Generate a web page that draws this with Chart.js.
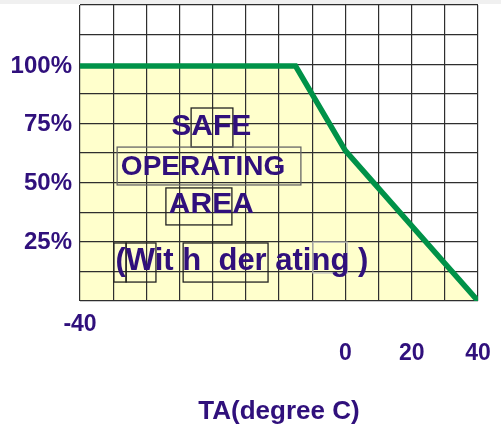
<!DOCTYPE html>
<html>
<head>
<meta charset="utf-8">
<title>Safe operating area</title>
<script src="https://cdn.jsdelivr.net/npm/chart.js@4.4.1/dist/chart.umd.min.js"></script>
<style>
  html, body { margin: 0; padding: 0; }
  body { width: 501px; height: 427px; overflow: hidden;
         background: linear-gradient(#f0f0f0 0 4px, #fff 4px); }
  .wrap { position: relative; width: 501px; height: 427px; }
</style>
</head>
<body>
<div class="wrap"><canvas id="soa"></canvas></div>
<script>
// derating curve: ambient temp (deg C) -> allowed load (%)
const taValues   = [-80, -15, 0, 40];
const loadValues = [100, 100, 64, 0];

// axis ticks (the drawing squeezes "-40" onto the left edge)
const xTickValues = [-80, 0, 20, 40];
const xTickLabels = ['-40', '0', '20', '40'];
const yTickValues = [25, 50, 75, 100];
const yTickLabels = ['25%', '50%', '75%', '100%'];

const areaText = ['SAFE', 'OPERATING', 'AREA', '(Wit h  der ating )'];

const PURPLE = '#30107c';
const GREEN  = '#009248';
const FONT   = "'Liberation Sans', Arial, sans-serif";

// text + the stray text-box outlines, placed in grid units (gx / gy scales)
const soaText = {
  id: 'soaText',
  afterDatasetsDraw(chart) {
    const {ctx} = chart;
    const gx = chart.scales.gx, gy = chart.scales.gy;
    const px = v => gx.getPixelForValue(v);
    const py = v => gy.getPixelForValue(v);

    const boxes = [
      [3.35, 5.20, 4.61, 6.52, '#222'],
      [1.12, 3.92, 6.66, 5.20, '#666'],
      [2.59, 2.57, 4.58, 3.82, '#222'],
      [1.02, 0.64, 1.39, 1.96, '#222'],
      [1.39, 0.64, 2.29, 1.96, '#222'],
      [3.11, 0.64, 5.67, 1.96, '#222'],
      [7.02, 0.95, 8.05, 1.99, '#bbb']
    ];
    ctx.save();
    ctx.lineWidth = 1.3;
    boxes.forEach(b => {
      ctx.strokeStyle = b[4];
      ctx.strokeRect(px(b[0]), py(b[3]), px(b[2]) - px(b[0]), py(b[1]) - py(b[3]));
    });

    const pos = [[3.96, 5.90, 30], [3.71, 4.53, 28], [3.96, 3.24, 30], [4.88, 1.33, 31]];
    ctx.fillStyle = PURPLE;
    ctx.textAlign = 'center';
    ctx.textBaseline = 'middle';
    areaText.forEach((t, i) => {
      const [x, y, size] = pos[i];
      ctx.font = `bold ${size}px ${FONT}`;
      ctx.fillText(t, px(x), py(y));
    });
    ctx.restore();
  }
};

const gridLine = { color: '#2e2e2e', lineWidth: 1.2, drawTicks: false };

new Chart(document.getElementById('soa'), {
  type: 'line',
  data: {
    datasets: [{
      data: taValues.map((t, i) => ({x: t, y: loadValues[i]})),
      borderColor: GREEN,
      borderWidth: 5.5,
      backgroundColor: '#ffffcc',
      fill: 'origin',
      pointRadius: 0,
      tension: 0
    }]
  },
  options: {
    responsive: true,
    maintainAspectRatio: false,
    animation: false,
    layout: { padding: { top: 5, right: 23, bottom: 0, left: 0 } },
    plugins: {
      legend: { display: false },
      tooltip: { enabled: false },
      filler: { drawTime: 'beforeDraw' }   // fill under the grid, line on top
    },
    scales: {
      x: {
        type: 'linear', min: -80, max: 40,
        afterBuildTicks: s => { s.ticks = xTickValues.map(v => ({value: v})); },
        afterFit: s => { s.height = 126; s.paddingLeft = 0; s.paddingRight = 0; },
        grid: { display: false, drawTicks: false },
        border: { display: false },
        ticks: {
          color: PURPLE, padding: 9, maxRotation: 0, autoSkip: false,
          font: { family: FONT, size: 23, weight: 'bold', lineHeight: '29px' },
          // 0 / 20 / 40 sit one line lower than -40
          callback: v => {
            const i = xTickValues.indexOf(v);
            return i === 0 ? xTickLabels[i] : ['', xTickLabels[i]];
          }
        },
        title: {
          display: true, text: 'TA(degree C)', color: PURPLE,
          font: { family: FONT, size: 26, weight: 'bold' },
          padding: { top: 0, bottom: 0 }
        }
      },
      y: {
        type: 'linear', min: 0, max: 126,
        afterBuildTicks: s => { s.ticks = yTickValues.map(v => ({value: v})); },
        afterFit: s => { s.width = 80; s.paddingTop = 0; s.paddingBottom = 0; },
        grid: { display: false, drawTicks: false },
        border: { display: false },
        ticks: {
          color: PURPLE, padding: 8,
          font: { family: FONT, size: 24, weight: 'bold' },
          callback: v => yTickLabels[yTickValues.indexOf(v)]
        }
      },
      gx: {
        type: 'linear', position: 'top', min: 0, max: 12,
        ticks: { display: false, stepSize: 1, maxTicksLimit: 20 },
        grid: gridLine,
        border: { display: false }
      },
      gy: {
        type: 'linear', position: 'right', min: 0, max: 10,
        ticks: { display: false, stepSize: 1, maxTicksLimit: 20 },
        grid: gridLine,
        border: { display: false }
      }
    }
  },
  plugins: [soaText]
});
</script>
</body>
</html>
